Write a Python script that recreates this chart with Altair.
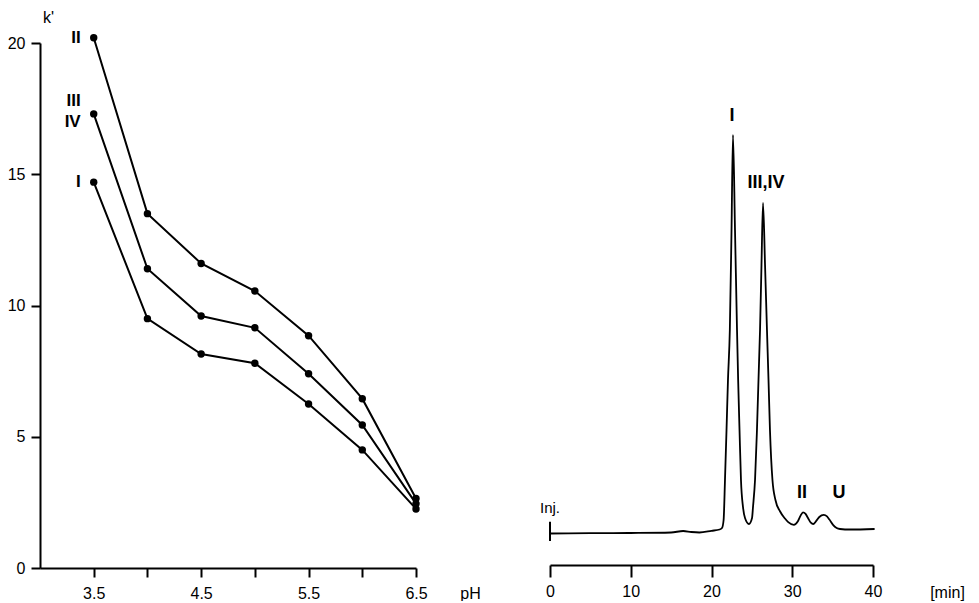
import altair as alt
import pandas as pd

# ---------------- Left panel: k' versus pH ----------------
ph = [3.5, 4.0, 4.5, 5.0, 5.5, 6.0, 6.5]
k_II = [20.2, 13.5, 11.6, 10.55, 8.85, 6.45, 2.65]
k_III_IV = [17.3, 11.4, 9.6, 9.15, 7.4, 5.45, 2.45]
k_I = [14.7, 9.5, 8.15, 7.8, 6.25, 4.5, 2.25]

series_labels = ["II", "III", "IV", "I"]
series_label_ph = [3.5, 3.5, 3.5, 3.5]
series_label_k = [20.2, 17.8, 17.0, 14.7]

# ---------------- Right panel: chromatogram ----------------
time_min = [0, 5, 10, 15, 16.5, 17.5, 18.5, 20, 21.0, 21.3, 21.5, 21.67, 21.86,
            22.04, 22.27, 22.48, 22.66, 22.91, 23.16, 23.3, 23.47, 23.65, 23.9,
            24.15, 24.64, 25.02, 25.14, 25.39, 25.63, 26.01, 26.19, 26.38, 26.63,
            26.87, 27.06, 27.24, 27.55, 27.92, 28.48, 29.1, 29.5, 30.2, 30.7,
            31.05, 31.33, 31.65, 31.95, 32.3, 32.6, 32.95, 33.35, 33.9, 34.3,
            34.6, 35.05, 35.5, 35.91, 37.15, 40.2]
signal = [6.03, 6.09, 6.13, 6.23, 6.51, 6.32, 6.23, 6.55, 6.8, 7.09, 8.62, 16.28,
          25.86, 35.44, 45.02, 64.18, 82.38, 64.18, 45.02, 35.44, 25.86, 16.28,
          11.11, 9.0, 7.85, 9.0, 11.11, 16.28, 25.86, 45.02, 57.47, 69.35, 57.47,
          45.02, 35.44, 25.86, 16.28, 12.45, 10.3, 8.9, 8.2, 7.7, 8.4,
          9.5, 10.1, 9.8, 9.0, 8.1, 7.85, 8.4, 9.2, 9.6, 9.3,
          8.7, 7.7, 7.1, 6.9, 6.8, 6.9]

peak_labels = ["I", "III,IV", "II", "U"]
peak_label_t = [22.54, 26.75, 31.2, 35.8]
peak_label_s = [86.0, 73.2, 13.8, 13.8]

inj_label = ["Inj."]
inj_t = [0.0]
inj_label_s = [10.9]
inj_low = [4.6]
inj_high = [8.3]

FONT = "Liberation Sans"

rows = []
for name, vals in [("II", k_II), ("III,IV", k_III_IV), ("I", k_I)]:
    for p, k in zip(ph, vals):
        rows.append({"series": name, "pH": p, "k": k})
left_df = pd.DataFrame(rows)
left_lab_df = pd.DataFrame({"label": series_labels, "pH": series_label_ph, "k": series_label_k})

x_left = alt.X(
    "pH:Q",
    scale=alt.Scale(domain=[3.0, 6.5], nice=False, zero=False),
    axis=alt.Axis(
        values=[3.5, 4.0, 4.5, 5.0, 5.5, 6.0, 6.5],
        labelExpr="(datum.value == 4 || datum.value == 5 || datum.value == 6) ? '' : format(datum.value, '.1f')",
        title="pH", titleX=430, titleY=25, titleAlign="center", titleBaseline="middle",
        tickSize=9, labelPadding=8, labelFlush=False, labelOverlap=False,
    ),
)
y_left = alt.Y(
    "k:Q",
    scale=alt.Scale(domain=[0, 20], nice=False),
    axis=alt.Axis(
        values=[0, 5, 10, 15, 20], title="k'", titleAngle=0, titleX=8, titleY=-26,
        titleAlign="center", titleBaseline="middle", tickSize=9, labelPadding=6,
        labelFlush=False,
    ),
)

left_lines = alt.Chart(left_df).mark_line(color="black", strokeWidth=2).encode(
    x=x_left, y=y_left, detail="series:N"
)
left_points = alt.Chart(left_df).mark_point(
    filled=True, color="black", size=55, opacity=1, shape="circle"
).encode(x="pH:Q", y="k:Q")
left_text = alt.Chart(left_lab_df).mark_text(
    align="right", baseline="middle", dx=-13, fontSize=17, fontWeight="bold", font=FONT, color="black"
).encode(x="pH:Q", y="k:Q", text="label:N")

left = alt.layer(left_lines, left_points, left_text).properties(width=376, height=525)

chrom_df = pd.DataFrame({"t": time_min, "s": signal})
peak_df = pd.DataFrame({"label": peak_labels, "t": peak_label_t, "s": peak_label_s})
inj_df = pd.DataFrame({"label": inj_label, "t": inj_t, "ls": inj_label_s, "s1": inj_low, "s2": inj_high})

x_right = alt.X(
    "t:Q",
    scale=alt.Scale(domain=[0, 40], nice=False),
    axis=alt.Axis(
        values=[0, 10, 20, 30, 40], title="[min]", titleX=397, titleY=27,
        titleAlign="center", titleBaseline="middle", tickSize=12, labelPadding=6,
        labelFlush=False,
    ),
)
y_right = alt.Y("s:Q", scale=alt.Scale(domain=[0, 100], nice=False), axis=None)

chrom = alt.Chart(chrom_df).mark_line(
    color="black", strokeWidth=1.8, interpolate="monotone"
).encode(x=x_right, y=y_right)
inj = alt.Chart(inj_df).mark_rule(color="black", strokeWidth=2).encode(
    x="t:Q", y="s1:Q", y2="s2:Q"
)
inj_text = alt.Chart(inj_df).mark_text(
    align="center", baseline="middle", fontSize=15, font=FONT, color="black"
).encode(x="t:Q", y="ls:Q", text="label:N")
peak_text = alt.Chart(peak_df).mark_text(
    align="center", baseline="middle", fontSize=18, fontWeight="bold", font=FONT, color="black"
).encode(x="t:Q", y="s:Q", text="label:N")

right = alt.layer(chrom, inj, inj_text, peak_text).properties(width=323, height=522)

chart = (
    alt.hconcat(left, right, spacing=134, bounds="flush")
    .properties(padding={"left": 7, "top": 9, "right": 0, "bottom": 0}, background="white")
    .configure(font=FONT)
    .configure_view(stroke=None)
    .configure_axis(
        grid=False, domainColor="black", domainWidth=2, tickColor="black", tickWidth=2,
        labelColor="black", labelFontSize=16, titleColor="black", titleFontSize=16,
        titleFontWeight="normal", labelFont=FONT, titleFont=FONT,
    )
)

chart.save("out.html", embed_options={"renderer": "svg", "actions": False})
